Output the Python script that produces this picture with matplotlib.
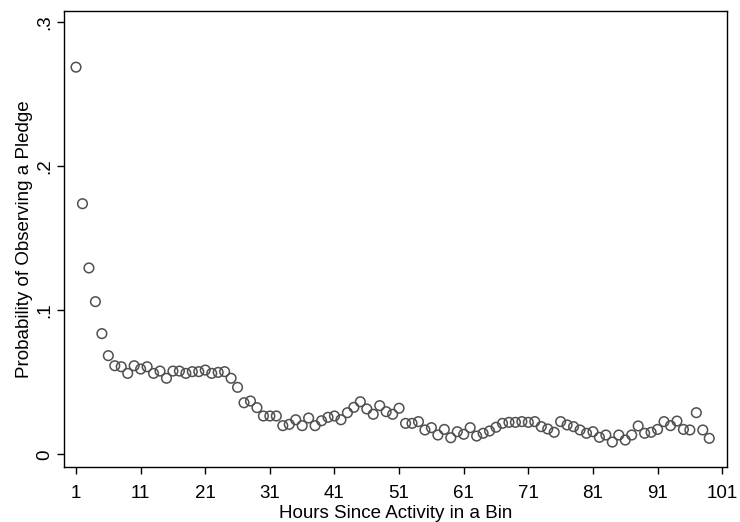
import matplotlib
matplotlib.use("Agg")
import matplotlib.pyplot as plt
import numpy as np

hours = list(range(1, 100))
prob = [0.2688, 0.174, 0.1294, 0.106, 0.0838, 0.0685, 0.0615, 0.0608, 0.0562, 0.0615,
        0.0592, 0.0608, 0.0562, 0.0578, 0.0528, 0.0578, 0.0578, 0.0562, 0.0574, 0.0574,
        0.0585, 0.0562, 0.0569, 0.0574, 0.0528, 0.0465, 0.0358, 0.037, 0.0324, 0.0266,
        0.0266, 0.0266, 0.0199, 0.0208, 0.024, 0.0199, 0.0252, 0.0199, 0.0233, 0.0257,
        0.0266, 0.024, 0.0289, 0.0326, 0.0365, 0.0315, 0.0278, 0.0338, 0.0296, 0.0278,
        0.032, 0.0215, 0.0215, 0.0227, 0.0169, 0.0185, 0.0134, 0.0173, 0.0115, 0.0157,
        0.0139, 0.0185, 0.0127, 0.0146, 0.0162, 0.0188, 0.0215, 0.0222, 0.0222, 0.0227,
        0.0222, 0.0227, 0.0192, 0.0176, 0.0153, 0.0227, 0.0204, 0.0192, 0.0169, 0.0146,
        0.0157, 0.0118, 0.0134, 0.0085, 0.0134, 0.0099, 0.0134, 0.0197, 0.0146, 0.0153,
        0.0173, 0.0227, 0.0199, 0.0231, 0.0173, 0.0169, 0.0289, 0.0169, 0.0111]

xticks = [1, 11, 21, 31, 41, 51, 61, 71, 81, 91, 101]
yticks = [0, 0.1, 0.2, 0.3]
yticklabels = ["0", ".1", ".2", ".3"]

plt.rcParams['font.family'] = ['Liberation Sans', 'DejaVu Sans']

fig = plt.figure(figsize=(7.4, 5.22), dpi=100)
ax = fig.add_axes([64/740, 1-466.7/522, (726.7-64)/740, (466.7-11)/522])

ax.scatter(hours, prob, s=48, facecolors='none', edgecolors='#505050', linewidths=1.1)

ax.set_xlim(-0.86, 101.7)
ax.set_ylim(-0.0086, 0.3078)
ax.set_xticks(xticks)
ax.set_yticks(yticks)
ax.set_yticklabels(yticklabels, rotation=90, va='center')
ax.tick_params(axis='both', direction='out', length=5, width=1, labelsize=13.5, colors='black')
ax.tick_params(axis='y', pad=3)
ax.tick_params(axis='x', pad=8)
ax.set_xlabel("Hours Since Activity in a Bin", fontsize=13.5, labelpad=2)
ax.set_ylabel("Probability of Observing a Pledge", fontsize=13.5, labelpad=2)
for s in ax.spines.values():
    s.set_linewidth(1.0)
    s.set_color('black')

fig.savefig("out.png", dpi=100)
